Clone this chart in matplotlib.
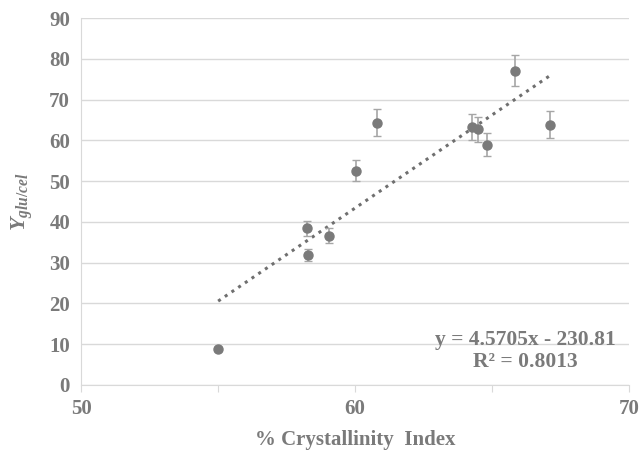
import matplotlib.pyplot as plt
import numpy as np

# crystallinity index (%) vs. glucose yield
ci = [55.0, 58.26, 58.28, 59.06, 60.04, 60.81, 64.26, 64.49, 64.81, 65.83, 67.1]
y_glu = [8.8, 38.4, 31.8, 36.6, 52.6, 64.4, 63.4, 62.7, 59.0, 77.1, 63.9]
y_err = [0.4, 1.8, 1.5, 1.8, 2.6, 3.2, 3.2, 3.0, 2.9, 3.8, 3.3]

slope = 4.5705
intercept = -230.81
r2 = 0.8013

plt.rcParams['font.family'] = ['Liberation Serif', 'DejaVu Serif']
plt.rcParams['font.weight'] = 'bold'
plt.rcParams['mathtext.fontset'] = 'custom'
plt.rcParams['mathtext.it'] = 'Liberation Serif:italic:bold'
plt.rcParams['mathtext.rm'] = 'Liberation Serif:bold'

gray = '#7a7a7a'
txt = '#7a7a7a'

fig = plt.figure(figsize=(6.44, 4.55), dpi=100)
ax = fig.add_axes([0.126, 0.154, 0.851, 0.806])

ax.errorbar(ci, y_glu, yerr=y_err, fmt='o', color=gray, ms=6.5,
            ecolor='#a6a6a6', elinewidth=1.2, capsize=3, capthick=1, zorder=3)

xs = np.array([min(ci), max(ci)])
ax.plot(xs, slope * xs + intercept, ':', color='#6f6f6f', lw=2.2, zorder=2)

ax.set_xlim(50, 70)
ax.set_ylim(0, 90)
ax.set_xticks(np.arange(50, 71, 5))
ax.set_xticklabels(['50', '', '60', '', '70'])
ax.set_yticks(np.arange(0, 91, 10))
ax.yaxis.grid(True, color='#d9d9d9', lw=1)
ax.set_axisbelow(True)

for s in ['top', 'right']:
    ax.spines[s].set_visible(False)
for s in ['left', 'bottom']:
    ax.spines[s].set_color('#d9d9d9')
ax.tick_params(axis='y', length=0, labelsize=15, labelcolor=txt, pad=8)
ax.tick_params(axis='x', length=5, color='#d9d9d9', labelsize=15,
               labelcolor=txt, pad=5)
for lbl in ax.get_xticklabels() + ax.get_yticklabels():
    lbl.set_fontweight('bold')

ax.set_xlabel('% Crystallinity  Index', fontsize=15, fontweight='bold',
              color=txt, labelpad=8)
ax.set_ylabel('$Y_{glu/cel}$', fontsize=16, color=txt, labelpad=10)

ax.text(66.2, 8.3, f'y = {slope}x - {abs(intercept)}\nR² = {r2}',
        ha='center', va='center', fontsize=15.5, fontweight='bold', color=txt,
        multialignment='center', linespacing=1.1)

fig.savefig('out.png', dpi=100)
